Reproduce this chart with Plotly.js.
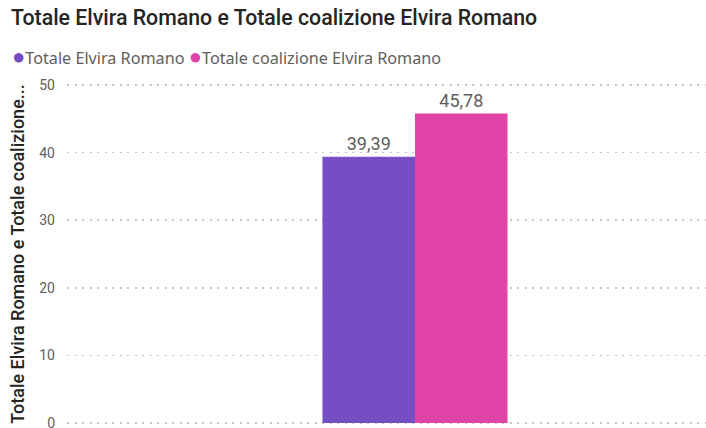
<!DOCTYPE html>
<html>
<head>
<meta charset="utf-8">
<script src="https://cdn.plot.ly/plotly-3.0.1.min.js"></script>
<style>html,body{margin:0;padding:0;background:#fff;}#chart{width:706px;height:428px;}</style>
</head>
<body>
<div id="chart"></div>
<script>
const categories = ["Elvira Romano"];
const seriesNames = ["Totale Elvira Romano", "Totale coalizione Elvira Romano"];
const totaleElviraRomano = [39.39];
const totaleCoalizione = [45.78];
const seriesColors = ["#744EC2", "#E044A7"];
const yTicks = [0, 10, 20, 30, 40, 50];

const values = [totaleElviraRomano, totaleCoalizione];
const traces = values.map((v, i) => ({
  type: "bar",
  name: seriesNames[i],
  x: categories,
  y: v,
  marker: {color: seriesColors[i]},
  texttemplate: "%{y:.2f}",
  textposition: "outside",
  cliponaxis: false,
  textfont: {family: "Roboto, sans-serif", size: 18, color: "#605E5C"},
  showlegend: false,
  hoverinfo: "none"
}));

const mt = 83, mb = 3, plotLeft = 67, plotW = 706 - 67, plotH = 428 - mt - mb;
const legendText = seriesNames.map((n, i) =>
  `<span style="color:${seriesColors[i]};font-size:22px">●</span>${n}`).join(" ");

const layout = {
  width: 706, height: 428,
  margin: {l: plotLeft, r: 0, t: mt, b: mb},
  paper_bgcolor: "#fff", plot_bgcolor: "#fff",
  separators: ",.",
  barmode: "group",
  bargap: 0.276,
  bargroupgap: 0,
  title: {
    text: "Totale Elvira Romano e Totale coalizione Elvira Romano",
    font: {family: "Roboto, sans-serif", size: 21.3, color: "#252423", weight: 500},
    x: 11 / 706, xanchor: "left", xref: "container",
    y: 1 - 18 / 428, yanchor: "middle", yref: "container"
  },
  annotations: [{
    text: legendText,
    xref: "paper", yref: "paper",
    x: (10 - plotLeft) / plotW, xanchor: "left",
    y: 1 + (mt - 55) / plotH, yanchor: "middle",
    showarrow: false,
    font: {family: "Noto Sans, sans-serif", size: 16.2, color: "#605E5C"}
  }],
  xaxis: {
    type: "category",
    range: [-1.3615, 1.1385],
    showticklabels: false,
    showgrid: false, zeroline: false, showline: false, ticks: ""
  },
  yaxis: {
    range: [-0.3, 50.3],
    tickvals: yTicks,
    ticktext: yTicks.map(String),
    ticklabeloverflow: "allow",
    showgrid: true, gridcolor: "#C8C6C4", griddash: "2px,5.5px", gridwidth: 1.5,
    zeroline: false, showline: false, ticks: "",
    ticklabelstandoff: 11,
    tickfont: {family: "Roboto, sans-serif", size: 14, color: "#605E5C"},
    title: {
      text: "Totale Elvira Romano e Totale coalizione...",
      font: {family: "Roboto, sans-serif", size: 18, color: "#252423", weight: 500},
      standoff: 9
    }
  }
};

Plotly.newPlot("chart", traces, layout, {displayModeBar: false, staticPlot: true});
</script>
</body>
</html>
